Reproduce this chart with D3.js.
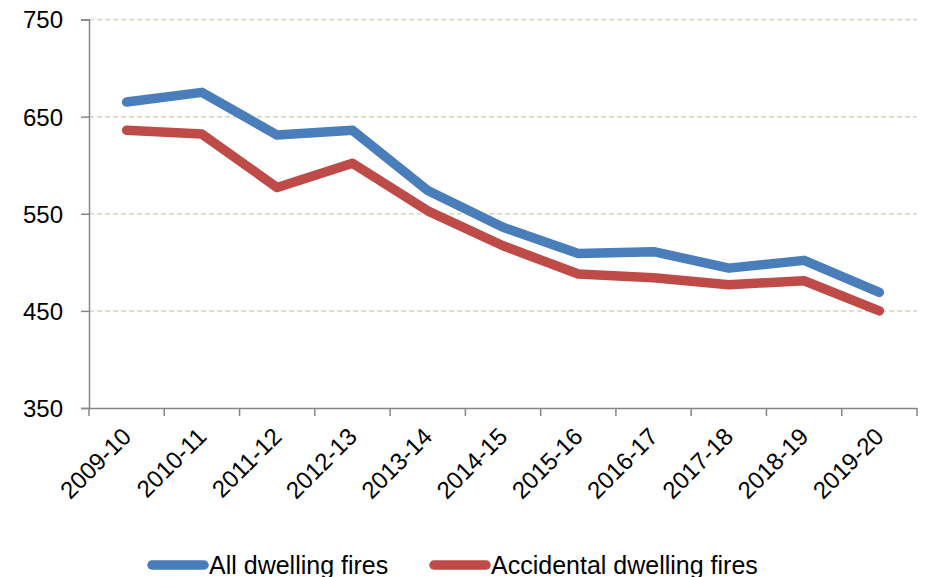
<!DOCTYPE html>
<html>
<head>
<meta charset="utf-8">
<script src="https://cdn.jsdelivr.net/npm/d3@7"></script>
<style>
  body { margin: 0; background: #fff; }
  text { font-family: "Liberation Sans", Arial, sans-serif; fill: #000; }
</style>
</head>
<body>
<svg id="chart" width="926" height="577"></svg>
<script>
var years = ["2009-10", "2010-11", "2011-12", "2012-13", "2013-14", "2014-15",
  "2015-16", "2016-17", "2017-18", "2018-19", "2019-20"];
var allFires = [665, 675, 631, 636, 574, 536, 509, 511, 494, 502, 469];
var accidentalFires = [636, 632, 577, 602, 553, 517, 488, 484, 477, 481, 450];
var yTicks = [350, 450, 550, 650, 750];

var series = [
  { name: "All dwelling fires", values: allFires, color: "#4a7ebb" },
  { name: "Accidental dwelling fires", values: accidentalFires, color: "#be4b48" }
];

var svg = d3.select("#chart");
var m = { left: 89, right: 917, top: 19.5, bottom: 408 };

var x = d3.scaleBand().domain(years).range([m.left, m.right]);
var y = d3.scaleLinear().domain([350, 750]).range([m.bottom, m.top]);

// gridlines
svg.append("g")
  .selectAll("line")
  .data(yTicks.filter(function(d) { return d > 350; }))
  .enter()
  .append("line")
  .attr("x1", m.left)
  .attr("x2", m.right)
  .attr("y1", function(d) { return y(d); })
  .attr("y2", function(d) { return y(d); })
  .attr("stroke", "#d8d3bb")
  .attr("stroke-width", 1.5)
  .attr("stroke-dasharray", "5,3");

// y axis
var yAxis = svg.append("g")
  .attr("transform", "translate(" + m.left + ",0)")
  .call(d3.axisLeft(y).tickValues(yTicks).tickSize(8).tickPadding(18));
yAxis.select(".domain").attr("stroke", "#868686").attr("stroke-width", 1.5);
yAxis.selectAll(".tick line").attr("stroke", "#868686").attr("stroke-width", 1.5);
yAxis.selectAll("text").style("font-size", "24px").attr("dy", "0.35em");

// x axis
var xAxis = svg.append("g")
  .attr("transform", "translate(0," + m.bottom + ")")
  .call(d3.axisBottom(x).tickSize(0).tickSizeOuter(0));
xAxis.select(".domain").attr("stroke", "#868686").attr("stroke-width", 1.5);
xAxis.selectAll(".tick line").remove();
xAxis.selectAll(".tick text")
  .style("font-size", "24px")
  .attr("text-anchor", "end")
  .attr("transform", "translate(0,24) rotate(-45)")
  .attr("y", 0)
  .attr("dy", "0.35em");

// x tick marks at band boundaries
svg.append("g")
  .selectAll("line")
  .data(d3.range(years.length + 1))
  .enter()
  .append("line")
  .attr("x1", function(i) { return m.left + i * x.step(); })
  .attr("x2", function(i) { return m.left + i * x.step(); })
  .attr("y1", m.bottom)
  .attr("y2", m.bottom + 8)
  .attr("stroke", "#868686")
  .attr("stroke-width", 1.5);

// lines
var line = d3.line()
  .x(function(d, i) { return x(years[i]) + x.bandwidth() / 2; })
  .y(function(d) { return y(d); });

svg.append("g")
  .selectAll("path")
  .data(series)
  .enter()
  .append("path")
  .attr("d", function(d) { return line(d.values); })
  .attr("fill", "none")
  .attr("stroke", function(d) { return d.color; })
  .attr("stroke-width", 9.5)
  .attr("stroke-linecap", "round")
  .attr("stroke-linejoin", "round");

// legend
var legendX = [152, 434];
var legend = svg.append("g")
  .selectAll("g")
  .data(series)
  .enter()
  .append("g")
  .attr("transform", function(d, i) { return "translate(" + legendX[i] + ",565)"; });

legend.append("line")
  .attr("x1", 0)
  .attr("x2", 52)
  .attr("stroke", function(d) { return d.color; })
  .attr("stroke-width", 9.5)
  .attr("stroke-linecap", "round");

legend.append("text")
  .attr("x", 57)
  .attr("y", 9)
  .style("font-size", "25px")
  .text(function(d) { return d.name; });
</script>
</body>
</html>
